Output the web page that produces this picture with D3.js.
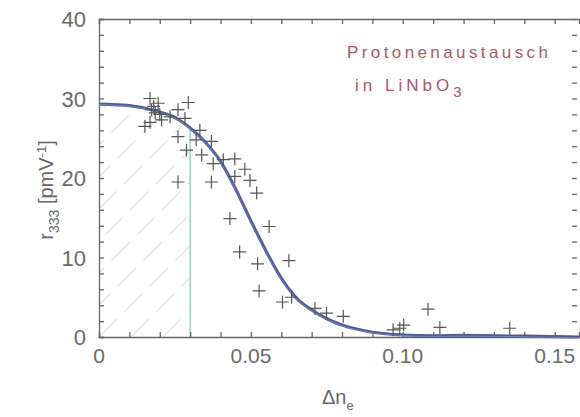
<!DOCTYPE html>
<html>
<head>
<meta charset="utf-8">
<script src="https://cdn.jsdelivr.net/npm/d3@7"></script>
<style>
  body { margin: 0; background: #fff; }
  svg { display: block; font-family: "Liberation Sans", Arial, sans-serif; }
</style>
</head>
<body>
<svg width="580" height="417"></svg>
<script>
// measured points (delta n_e, r333)
var pointsX = [0.0168, 0.0195, 0.0173, 0.0185, 0.0200, 0.0180, 0.0294, 0.0151, 0.0168, 0.0206, 0.0234, 0.0260,
  0.0283, 0.0260, 0.0288, 0.0332, 0.0320, 0.0370, 0.0338, 0.0376, 0.0409, 0.0447, 0.0480, 0.0447, 0.0497,
  0.0519, 0.0260, 0.0370, 0.0431, 0.0560, 0.0463, 0.0522, 0.0625, 0.0527, 0.0604, 0.0634, 0.0711, 0.0749,
  0.0804, 0.0968, 0.0990, 0.1003, 0.1083, 0.1122, 0.1352];
var pointsY = [30.0, 29.4, 28.6, 28.2, 28.0, 29.0, 29.5, 26.5, 27.0, 27.3, 27.7, 28.6,
  27.5, 25.2, 23.5, 26.0, 24.8, 24.6, 22.9, 21.8, 22.3, 22.4, 21.1, 20.2, 19.7,
  18.1, 19.5, 19.5, 14.9, 13.9, 10.7, 9.2, 9.6, 5.8, 4.4, 5.0, 3.6, 3.0,
  2.6, 0.9, 1.1, 1.5, 3.5, 1.2, 1.1];

// fitted curve
var fitX = [0, 0.01, 0.02, 0.025, 0.03, 0.035, 0.04, 0.045, 0.05, 0.055, 0.06, 0.065, 0.07, 0.075,
  0.08, 0.09, 0.10, 0.11, 0.12, 0.13, 0.14, 0.15, 0.158];
var fitY = [29.3, 29.1, 28.3, 27.6, 26.3, 24.5, 22.1, 18.6, 14.6, 10.8, 7.4, 4.9, 3.4, 2.3,
  1.5, 0.6, 0.25, 0.15, 0.2, 0.15, 0.1, 0.05, 0];

var xTicks = [0, 0.05, 0.10, 0.15];
var xTickLabels = ["0", "0.05", "0.10", "0.15"];
var yTicks = [0, 10, 20, 30, 40];
var hatchEnd = 0.030;

var svg = d3.select("svg"),
    width = +svg.attr("width"),
    height = +svg.attr("height");

var x = d3.scaleLinear().domain([0, 0.158]).range([99, 579]);
var y = d3.scaleLinear().domain([0, 40]).range([337, 19]);

var axisColor = "#666";

var fit = fitX.map((d, i) => [d, fitY[i]]);
var line = d3.line()
    .x(d => x(d[0]))
    .y(d => y(d[1]))
    .curve(d3.curveMonotoneX);

// hatched region under the curve up to hatchEnd
var area = d3.area()
    .x(d => x(d[0]))
    .y0(y(0))
    .y1(d => y(d[1]))
    .curve(d3.curveMonotoneX);

var hatchPart = fit.filter(d => d[0] <= hatchEnd);

svg.append("clipPath")
    .attr("id", "hatchclip")
  .append("path")
    .datum(hatchPart)
    .attr("d", area);

var hatch = svg.append("g").attr("clip-path", "url(#hatchclip)");
d3.range(-8, 8).forEach(i => {
  var x0 = x(0) + i * 32;
  hatch.append("line")
      .attr("x1", x0)
      .attr("y1", y(0))
      .attr("x2", x0 + 260)
      .attr("y2", y(0) - 260)
      .attr("stroke", "#d6e6e2")
      .attr("stroke-width", 1.1)
      .attr("stroke-dasharray", "26,10");
});

// vertical marker line
svg.append("line")
    .attr("x1", x(hatchEnd))
    .attr("x2", x(hatchEnd))
    .attr("y1", y(0))
    .attr("y2", y(26.3))
    .attr("stroke", "#8cc8c0")
    .attr("stroke-width", 1.3);

// axes
var xAxisBottom = d3.axisBottom(x).tickValues(d3.range(0, 0.1581, 0.01)).tickSize(-5).tickFormat("");
var xAxisTop = d3.axisTop(x).tickValues(d3.range(0, 0.1581, 0.01)).tickSize(-5).tickFormat("");
var yAxisLeft = d3.axisLeft(y).tickValues(d3.range(0, 40.1, 2)).tickSize(-5).tickFormat("");
var yAxisRight = d3.axisRight(y).tickValues(d3.range(0, 40.1, 2)).tickSize(-5).tickFormat("");

function styleAxis(g) {
  g.selectAll("path, line").attr("stroke", axisColor).attr("stroke-width", 1.3);
}

svg.append("g").attr("transform", `translate(0,${y(0)})`).call(xAxisBottom).call(styleAxis);
svg.append("g").attr("transform", `translate(0,${y(40)})`).call(xAxisTop).call(styleAxis);
svg.append("g").attr("transform", `translate(${x(0)},0)`).call(yAxisLeft).call(styleAxis);
var gR = svg.append("g").attr("transform", `translate(577,0)`).call(yAxisRight).call(styleAxis);
gR.select(".domain").remove();

// tick labels
svg.append("g").selectAll("text")
    .data(xTicks)
  .join("text")
    .attr("x", d => x(d))
    .attr("y", 363)
    .attr("text-anchor", "middle")
    .attr("font-size", 21)
    .attr("fill", "#6a6a6a")
    .text((d, i) => xTickLabels[i]);

svg.append("g").selectAll("text")
    .data(yTicks)
  .join("text")
    .attr("x", 86)
    .attr("y", d => y(d) + 8)
    .attr("text-anchor", "end")
    .attr("font-size", 22)
    .attr("fill", "#6a6a6a")
    .text(d => d);

// axis titles
var xl = svg.append("text")
    .attr("x", 322)
    .attr("y", 404)
    .attr("font-size", 20)
    .attr("fill", axisColor);
xl.append("tspan").text("Δn");
xl.append("tspan").attr("dy", 6).attr("font-size", 13).text("e");

var yl = svg.append("text")
    .attr("transform", "translate(53,190) rotate(-90)")
    .attr("text-anchor", "middle")
    .attr("font-size", 20)
    .attr("fill", axisColor);
yl.append("tspan").text("r");
yl.append("tspan").attr("dy", 6).attr("font-size", 14).text("333");
yl.append("tspan").attr("dy", -6).text(" [pmV");
yl.append("tspan").attr("dy", -7).attr("font-size", 13).text("-1");
yl.append("tspan").attr("dy", 7).text("]");

// fit curve, drawn a few times like the original overlays
[[0, "#5865a0", 3.2], [0.4, "#7080b8", 1.2], [-0.5, "#4a5590", 1]].forEach(s => {
  svg.append("path")
      .datum(fit)
      .attr("fill", "none")
      .attr("stroke", s[1])
      .attr("stroke-width", s[2])
      .attr("transform", `translate(0,${s[0]})`)
      .attr("d", line);
});

// data points as crosses
var pts = pointsX.map((d, i) => [d, pointsY[i]]);
svg.append("g").selectAll("path")
    .data(pts)
  .join("path")
    .attr("d", d => {
      var cx = x(d[0]), cy = y(d[1]);
      return `M${cx - 6.5},${cy}H${cx + 6.5}M${cx},${cy - 6.5}V${cy + 6.5}`;
    })
    .attr("stroke", "#555")
    .attr("stroke-width", 1.2)
    .attr("fill", "none");

// handwritten note
var noteColor = "#a45a6a";
svg.append("text")
    .attr("x", 347)
    .attr("y", 58)
    .attr("font-size", 17)
    .attr("letter-spacing", 3.4)
    .attr("fill", noteColor)
    .text("Protonenaustausch");
var n2 = svg.append("text")
    .attr("x", 355)
    .attr("y", 91)
    .attr("font-size", 17)
    .attr("letter-spacing", 4)
    .attr("fill", noteColor);
n2.append("tspan").text("in LiNbO");
n2.append("tspan").attr("dy", 6).attr("font-size", 15).text("3");
</script>
</body>
</html>
